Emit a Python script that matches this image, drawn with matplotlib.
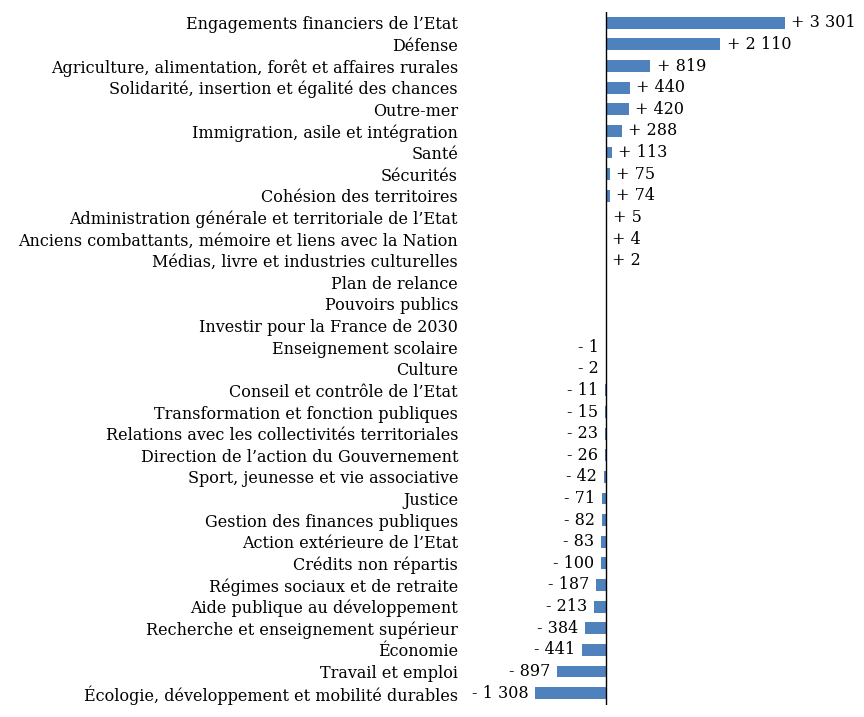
import numpy as np
import matplotlib.pyplot as plt

# missions du budget de l'Etat, écart en M€
categories = [
    "Engagements financiers de l\u2019Etat",
    "Défense",
    "Agriculture, alimentation, forêt et affaires rurales",
    "Solidarité, insertion et égalité des chances",
    "Outre-mer",
    "Immigration, asile et intégration",
    "Santé",
    "Sécurités",
    "Cohésion des territoires",
    "Administration générale et territoriale de l\u2019Etat",
    "Anciens combattants, mémoire et liens avec la Nation",
    "Médias, livre et industries culturelles",
    "Plan de relance",
    "Pouvoirs publics",
    "Investir pour la France de 2030",
    "Enseignement scolaire",
    "Culture",
    "Conseil et contrôle de l\u2019Etat",
    "Transformation et fonction publiques",
    "Relations avec les collectivités territoriales",
    "Direction de l\u2019action du Gouvernement",
    "Sport, jeunesse et vie associative",
    "Justice",
    "Gestion des finances publiques",
    "Action extérieure de l\u2019Etat",
    "Crédits non répartis",
    "Régimes sociaux et de retraite",
    "Aide publique au développement",
    "Recherche et enseignement supérieur",
    "Économie",
    "Travail et emploi",
    "Écologie, développement et mobilité durables",
]
valeurs = [3301, 2110, 819, 440, 420, 288, 113, 75, 74, 5, 4, 2, 0, 0, 0,
           -1, -2, -11, -15, -23, -26, -42, -71, -82, -83, -100, -187, -213,
           -384, -441, -897, -1308]


def fmt(v):
    s = f"{abs(v):,}".replace(",", " ")
    return ("+ " if v > 0 else "- ") + s


plt.rcParams['font.family'] = ['DejaVu Serif']
fs = 11.5

fig = plt.figure(figsize=(8.64, 7.17), dpi=100)
W, H = 864, 717
ax = fig.add_axes([465 / W, 1 - 705 / H, (860 - 465) / W, (705 - 12) / H])

y = np.arange(len(categories))
ax.barh(y, valeurs, height=0.55, color="#4F81BD")
ax.set_xlim(-2601, 4686)
ax.set_ylim(31.55, -0.5)
ax.axvline(0, color="black", lw=1)

for yi, v in zip(y, valeurs):
    if v == 0:
        continue
    if v > 0:
        ax.annotate(fmt(v), (v, yi), xytext=(4.5, 0), textcoords="offset points",
                    ha="left", va="center", fontsize=fs)
    else:
        ax.annotate(fmt(v), (v, yi), xytext=(-5, 0), textcoords="offset points",
                    ha="right", va="center", fontsize=fs)

ax.set_yticks(y)
ax.set_yticklabels(categories, fontsize=fs)
ax.tick_params(axis="y", length=0, pad=5)
ax.set_xticks([])
for s in ax.spines.values():
    s.set_visible(False)

fig.savefig("out.png", dpi=100)
